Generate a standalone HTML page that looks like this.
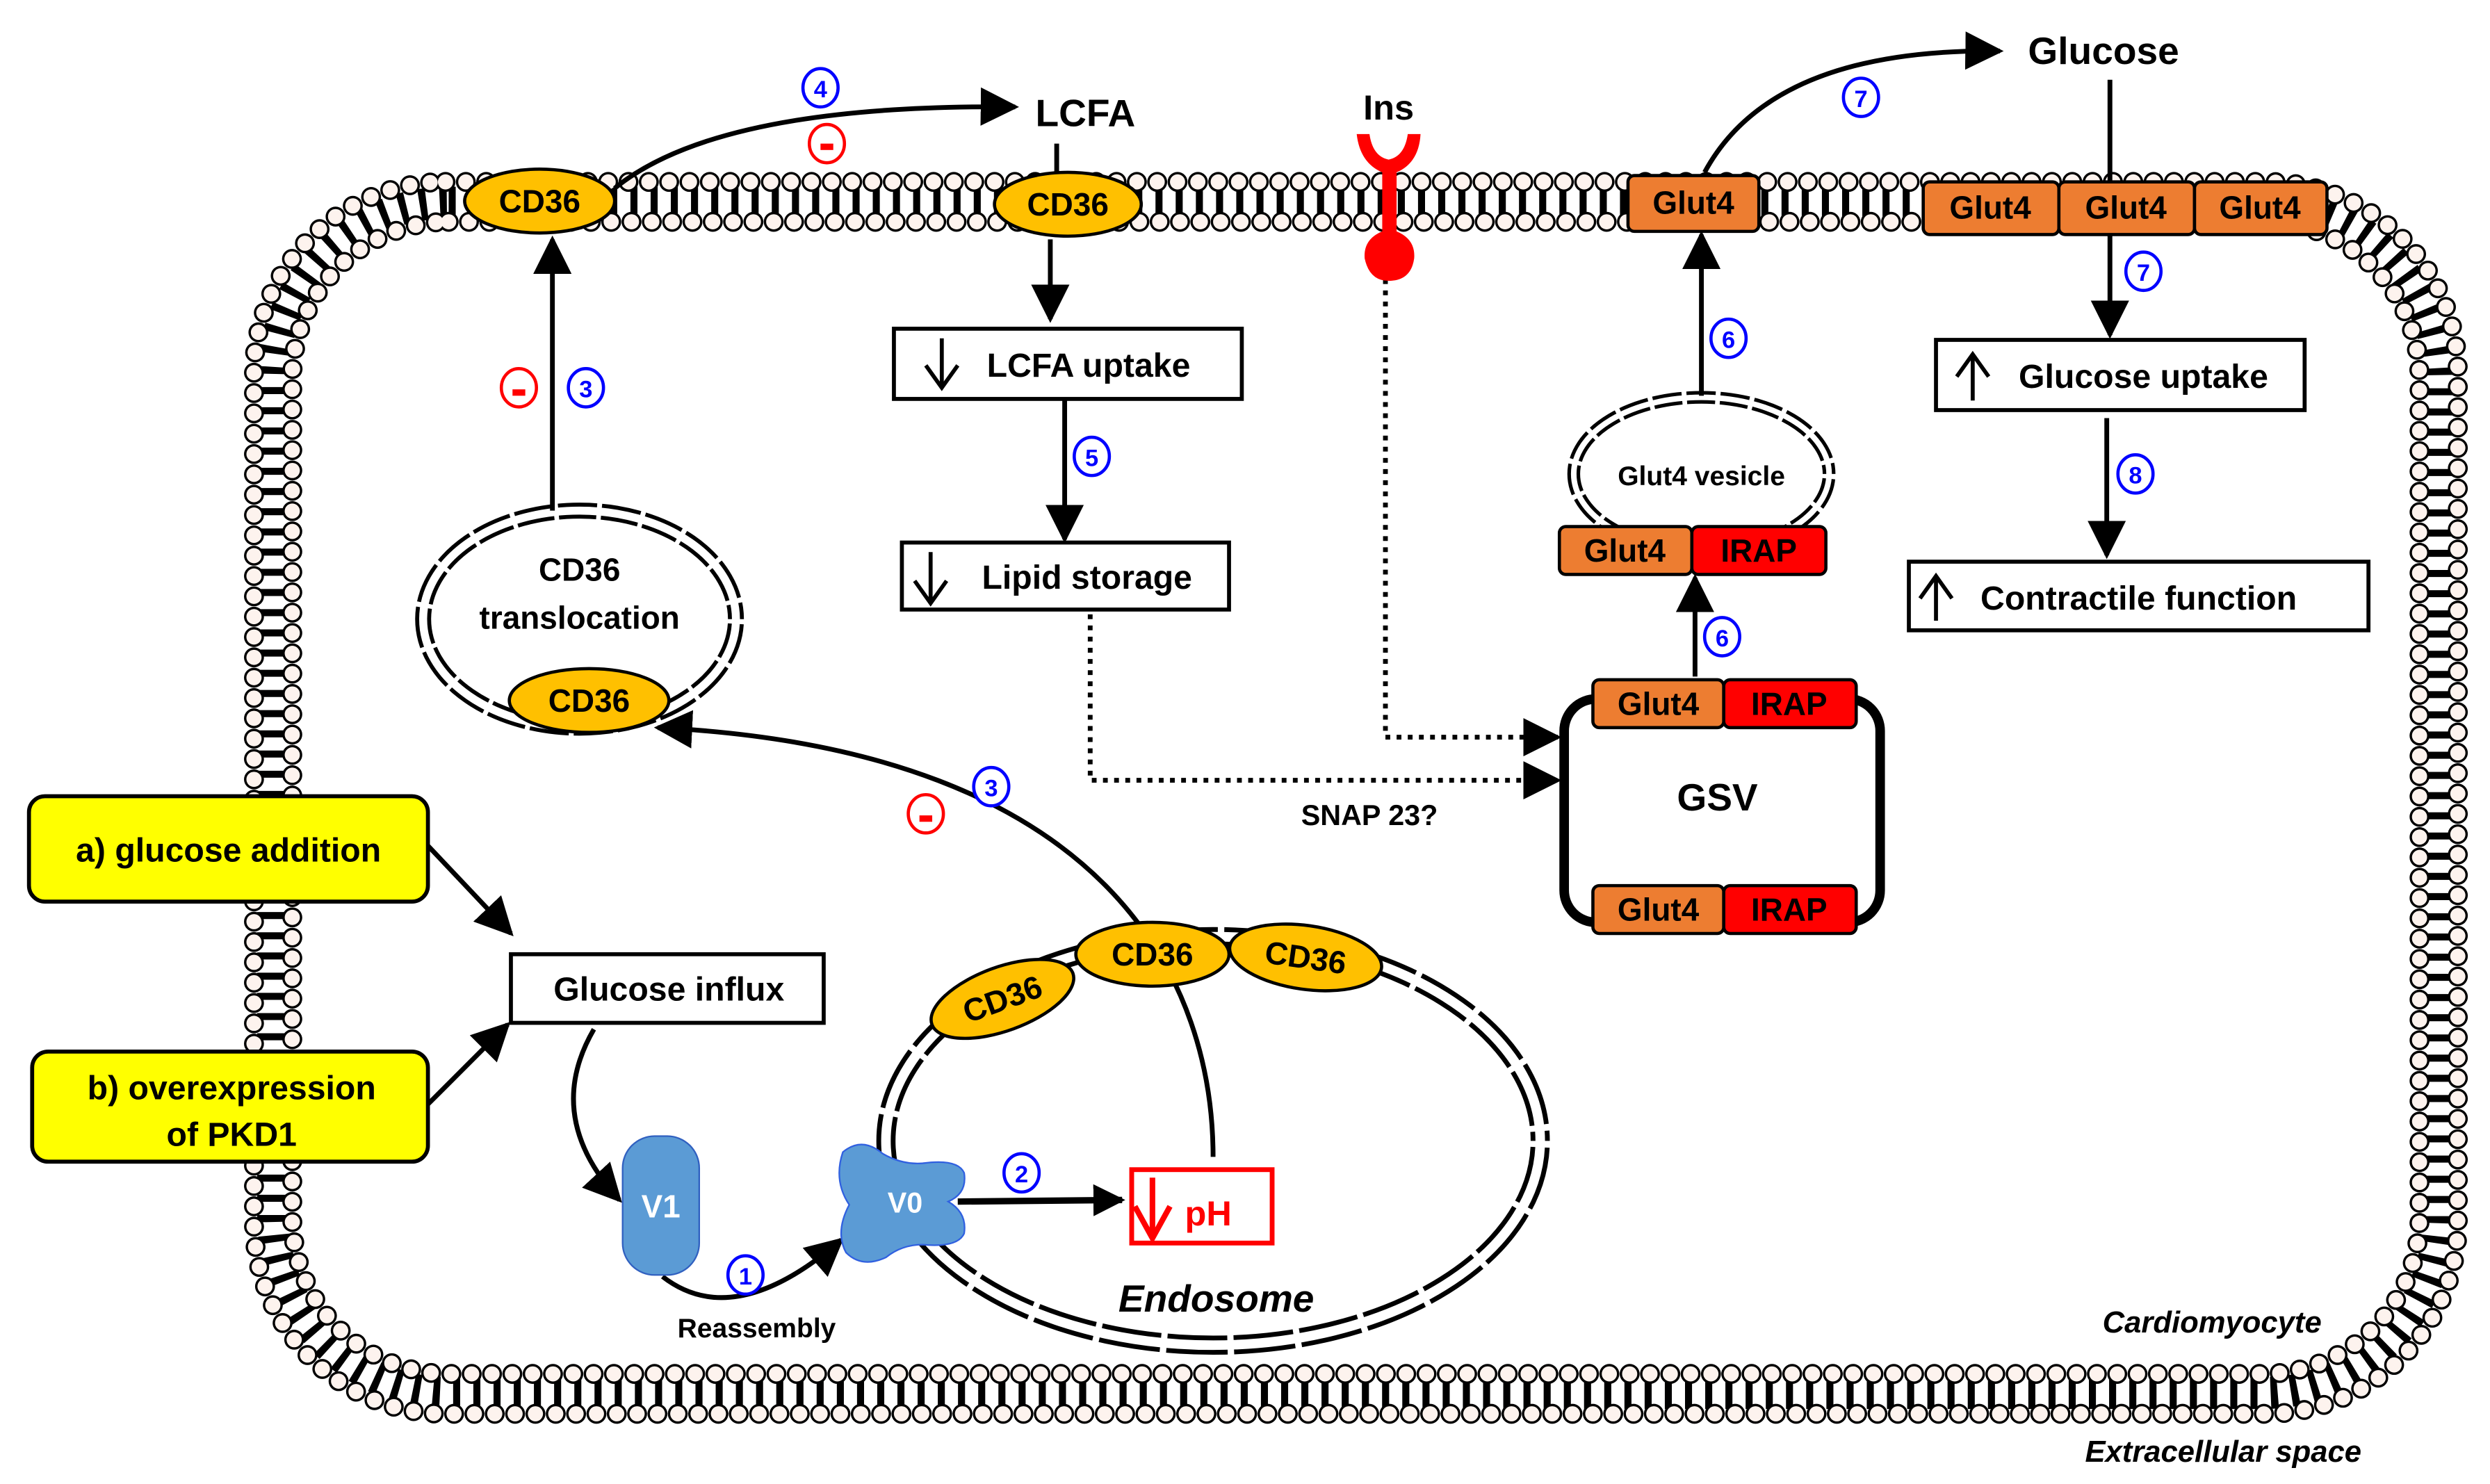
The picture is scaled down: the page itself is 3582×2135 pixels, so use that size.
<!DOCTYPE html>
<html><head><meta charset="utf-8"><style>
html,body{margin:0;padding:0;background:#fff;}
svg{display:block;}
text{font-family:"Liberation Sans",Arial,sans-serif;font-weight:bold;}
</style></head><body>
<svg width="3582" height="2135" viewBox="0 0 1560 930" xmlns="http://www.w3.org/2000/svg">
<defs>
<marker id="ah" viewBox="0 0 10 10" refX="9" refY="5" markerWidth="5" markerHeight="5" orient="auto" markerUnits="strokeWidth"><path d="M0,0 L10,5 L0,10 z" fill="#000"/></marker>
<marker id="ah2" viewBox="0 0 10 10" refX="9" refY="5" markerWidth="8" markerHeight="8" orient="auto" markerUnits="strokeWidth"><path d="M0,0 L10,5 L0,10 z" fill="#000"/></marker>
</defs>
<rect width="1560" height="930" fill="#fff"/>
<!-- membrane -->
<g fill="none">
<rect x="171" y="127" width="1357" height="746" rx="110" stroke="#000" stroke-width="20" stroke-dasharray="4 7.5" pathLength="3650"/>
<rect x="159" y="114" width="1381" height="772" rx="120" stroke="#000" stroke-width="12.5" stroke-linecap="round" stroke-dasharray="0 11.5" pathLength="3700"/>
<rect x="159" y="114" width="1381" height="772" rx="120" stroke="#fdf3ee" stroke-width="9.5" stroke-linecap="round" stroke-dasharray="0 11.5" pathLength="3700"/>
<rect x="183" y="139" width="1333" height="722" rx="98" stroke="#000" stroke-width="12.5" stroke-linecap="round" stroke-dasharray="0 11.5" pathLength="3560"/>
<rect x="183" y="139" width="1333" height="722" rx="98" stroke="#fdf3ee" stroke-width="9.5" stroke-linecap="round" stroke-dasharray="0 11.5" pathLength="3560"/>
</g>
<!-- vesicles -->
<g fill="none">
<ellipse cx="363" cy="388" rx="98" ry="68" stroke="#000" stroke-width="10"/>
<ellipse cx="363" cy="388" rx="98" ry="68" stroke="#fff" stroke-width="5"/>
<ellipse cx="363" cy="388" rx="98" ry="68" stroke="#fff" stroke-width="12" stroke-dasharray="3 24"/>
<ellipse cx="760" cy="715" rx="205" ry="128" stroke="#000" stroke-width="12"/>
<ellipse cx="760" cy="715" rx="205" ry="128" stroke="#fff" stroke-width="6"/>
<ellipse cx="760" cy="715" rx="205" ry="128" stroke="#fff" stroke-width="14" stroke-dasharray="4 38"/>
<ellipse cx="1066" cy="297" rx="80" ry="48" stroke="#000" stroke-width="8"/>
<ellipse cx="1066" cy="297" rx="80" ry="48" stroke="#fff" stroke-width="3.5"/>
<ellipse cx="1066" cy="297" rx="80" ry="48" stroke="#fff" stroke-width="10" stroke-dasharray="3 18"/>
</g>
<!-- arrows -->
<g fill="none" stroke="#000" stroke-width="3">
<path d="M385,118 Q450,65 636,67" marker-end="url(#ah2)"/>
<line x1="662" y1="90" x2="662" y2="108"/>
<line x1="658" y1="150" x2="658" y2="200" marker-end="url(#ah2)"/>
<line x1="667" y1="250" x2="667" y2="338" marker-end="url(#ah2)"/>
<line x1="346" y1="320" x2="346" y2="150" marker-end="url(#ah2)"/>
<path d="M760,725 C760,620 700,470 412,456" marker-end="url(#ah2)"/>
<line x1="268" y1="530" x2="320" y2="585" marker-end="url(#ah2)"/>
<line x1="268" y1="692" x2="318" y2="642" marker-end="url(#ah2)"/>
<path d="M372,645 Q340,700 388,752" marker-end="url(#ah2)"/>
<path d="M415,800 Q460,835 527,777" marker-end="url(#ah2)"/>
<line x1="600" y1="753" x2="703" y2="752" stroke-width="4" marker-end="url(#ah)"/>
<line x1="1062" y1="424" x2="1062" y2="362" marker-end="url(#ah2)"/>
<line x1="1066" y1="248" x2="1066" y2="147" marker-end="url(#ah2)"/>
<path d="M1068,108 Q1110,30 1253,32" marker-end="url(#ah2)"/>
<line x1="1322" y1="50" x2="1322" y2="210" marker-end="url(#ah2)"/>
<line x1="1320" y1="262" x2="1320" y2="348" marker-end="url(#ah2)"/>
<path d="M683,385 V489 H976" stroke-dasharray="3 4" marker-end="url(#ah2)"/>
<path d="M868,175 V462 H976" stroke-dasharray="3 4" marker-end="url(#ah2)"/>
</g>
<!-- CD36 -->
<g stroke="#000" stroke-width="2" fill="#FFC000">
<ellipse cx="338" cy="126" rx="47" ry="20"/>
<ellipse cx="669" cy="128" rx="46" ry="20"/>
<ellipse cx="369" cy="439" rx="50" ry="20"/>
<ellipse cx="628" cy="626" rx="47" ry="20" transform="rotate(-20 628 626)"/>
<ellipse cx="722" cy="598" rx="48" ry="20"/>
<ellipse cx="818" cy="600" rx="48" ry="20" transform="rotate(8 818 600)"/>
</g>
<g font-size="20" text-anchor="middle">
<text x="338" y="133">CD36</text>
<text x="669" y="135">CD36</text>
<text x="369" y="446">CD36</text>
<text x="628" y="633" transform="rotate(-20 628 626)">CD36</text>
<text x="722" y="605">CD36</text>
<text x="818" y="607" transform="rotate(8 818 600)">CD36</text>
<text x="363" y="364">CD36</text>
<text x="363" y="394">translocation</text>
</g>
<!-- boxes -->
<g fill="#fff" stroke="#000" stroke-width="2.5">
<rect x="560" y="206" width="218" height="44"/>
<rect x="565" y="340" width="205" height="42"/>
<rect x="320" y="598" width="196" height="43"/>
<rect x="1213" y="213" width="231" height="44"/>
<rect x="1196" y="352" width="288" height="43"/>
<rect x="18" y="499" width="250" height="66" rx="10" fill="#FFFF00"/>
<rect x="20" y="659" width="248" height="69" rx="10" fill="#FFFF00"/>
</g>
<g font-size="21" text-anchor="middle">
<text x="682" y="236">LCFA uptake</text>
<text x="681" y="369">Lipid storage</text>
<text x="419" y="627">Glucose influx</text>
<text x="1343" y="243">Glucose uptake</text>
<text x="1340" y="382">Contractile function</text>
<text x="143" y="540">a) glucose addition</text>
<text x="145" y="689">b) overexpression</text>
<text x="145" y="718">of PKD1</text>
</g>
<!-- up/down glyph arrows -->
<g fill="none" stroke="#000" stroke-width="2.5">
<path d="M590,212 V243 M580,229 L590,243 L600,229"/>
<path d="M583,346 V378 M573,364 L583,378 L593,364"/>
<path d="M1236,251 V222 M1226,236 L1236,222 L1246,236"/>
<path d="M1213,389 V361 M1203,375 L1213,361 L1223,375"/>
</g>
<path d="M722,738 V776 M711,756 L722,776 L733,756" fill="none" stroke="#f00" stroke-width="3.5"/>
<!-- GSV -->
<rect x="980" y="438" width="198" height="140" rx="20" fill="none" stroke="#000" stroke-width="6"/>
<g stroke="#000" stroke-width="2">
<rect x="998" y="426" width="82" height="30" rx="4" fill="#ED7D31"/>
<rect x="1080" y="426" width="83" height="30" rx="4" fill="#FF0000"/>
<rect x="998" y="555" width="82" height="30" rx="4" fill="#ED7D31"/>
<rect x="1080" y="555" width="83" height="30" rx="4" fill="#FF0000"/>
<rect x="977" y="330" width="83" height="30" rx="4" fill="#ED7D31"/>
<rect x="1060" y="330" width="84" height="30" rx="4" fill="#FF0000"/>
<rect x="1020" y="110" width="82" height="35" rx="4" fill="#ED7D31"/>
<rect x="1205" y="114" width="85" height="33" rx="4" fill="#ED7D31"/>
<rect x="1290" y="114" width="85" height="33" rx="4" fill="#ED7D31"/>
<rect x="1375" y="114" width="83" height="33" rx="4" fill="#ED7D31"/>
</g>
<g font-size="20" text-anchor="middle">
<text x="1039" y="448">Glut4</text><text x="1121" y="448">IRAP</text>
<text x="1039" y="577">Glut4</text><text x="1121" y="577">IRAP</text>
<text x="1018" y="352">Glut4</text><text x="1102" y="352">IRAP</text>
<text x="1061" y="134">Glut4</text>
<text x="1247" y="137">Glut4</text><text x="1332" y="137">Glut4</text><text x="1416" y="137">Glut4</text>
<text x="1066" y="304" font-size="17">Glut4 vesicle</text>
<text x="1076" y="508" font-size="24">GSV</text>
<text x="680" y="79" font-size="24">LCFA</text>
<text x="1318" y="40" font-size="24">Glucose</text>
<text x="870" y="75" font-size="22">Ins</text>
<text x="858" y="517" font-size="18">SNAP 23?</text>
<text x="474" y="838" font-size="17">Reassembly</text>
<text x="762" y="822" font-size="24" font-style="italic">Endosome</text>
<text x="1386" y="835" font-size="19" font-style="italic">Cardiomyocyte</text>
<text x="1393" y="916" font-size="19" font-style="italic">Extracellular space</text>
</g>
<!-- Ins receptor -->
<path d="M850,84 Q852,102 866,108 L866,145 Q854,150 855,162 Q858,176 870,176 Q884,176 886,162 Q887,150 875,145 L875,108 Q889,102 890,84 L882,84 Q880,98 870,100 Q860,98 858,84 Z" fill="#FF0000"/>
<!-- V1 / V0 -->
<rect x="390" y="712" width="48" height="87" rx="20" fill="#5B9BD5" stroke="#3060c0" stroke-width="1"/>
<text x="414" y="763" font-size="20" fill="#fff" text-anchor="middle">V1</text>
<path d="M528,722 Q540,712 553,723 Q565,730 578,729 Q600,726 604,735 Q606,748 594,753 Q606,760 604,773 Q600,782 578,780 Q565,780 555,788 Q540,795 530,785 Q523,772 532,755 Q522,740 528,722 Z" fill="#5B9BD5" stroke="#3060e0" stroke-width="1"/>
<text x="567" y="760" font-size="18" fill="#fff" text-anchor="middle" font-weight="normal">V0</text>
<!-- pH -->
<rect x="709" y="733" width="88" height="46" fill="#fff" stroke="#FF0000" stroke-width="3"/>
<path d="M722,738 V776 M711,756 L722,776 L733,756" fill="none" stroke="#f00" stroke-width="3.5"/>
<text x="757" y="768" font-size="22" fill="#FF0000" text-anchor="middle">pH</text>
<!-- number circles -->
<g fill="#fff" stroke="#00f" stroke-width="2">
<ellipse cx="514" cy="55" rx="11" ry="12"/>
<ellipse cx="367" cy="243" rx="11" ry="12"/>
<ellipse cx="621" cy="493" rx="11" ry="12"/>
<ellipse cx="684" cy="286" rx="11" ry="12"/>
<ellipse cx="467" cy="799" rx="11" ry="12"/>
<ellipse cx="640" cy="735" rx="11" ry="12"/>
<ellipse cx="1079" cy="399" rx="11" ry="12"/>
<ellipse cx="1083" cy="212" rx="11" ry="12"/>
<ellipse cx="1166" cy="61" rx="11" ry="12"/>
<ellipse cx="1343" cy="170" rx="11" ry="12"/>
<ellipse cx="1338" cy="297" rx="11" ry="12"/>
</g>
<g fill="#00f" font-size="15" text-anchor="middle">
<text x="514" y="61">4</text><text x="367" y="249">3</text><text x="621" y="499">3</text>
<text x="684" y="292">5</text><text x="467" y="805">1</text><text x="640" y="741">2</text>
<text x="1079" y="405">6</text><text x="1083" y="218">6</text><text x="1166" y="67">7</text>
<text x="1343" y="176">7</text><text x="1338" y="303">8</text>
</g>
<g fill="#fff" stroke="#f00" stroke-width="2">
<ellipse cx="518" cy="90" rx="11" ry="12"/>
<ellipse cx="325" cy="243" rx="11" ry="12"/>
<ellipse cx="580" cy="510" rx="11" ry="12"/>
</g>
<g fill="#f00">
<rect x="514" y="90" width="8" height="4"/>
<rect x="321" y="244" width="8" height="4"/>
<rect x="576" y="511" width="8" height="4"/>
</g>
</svg>
</body></html>
